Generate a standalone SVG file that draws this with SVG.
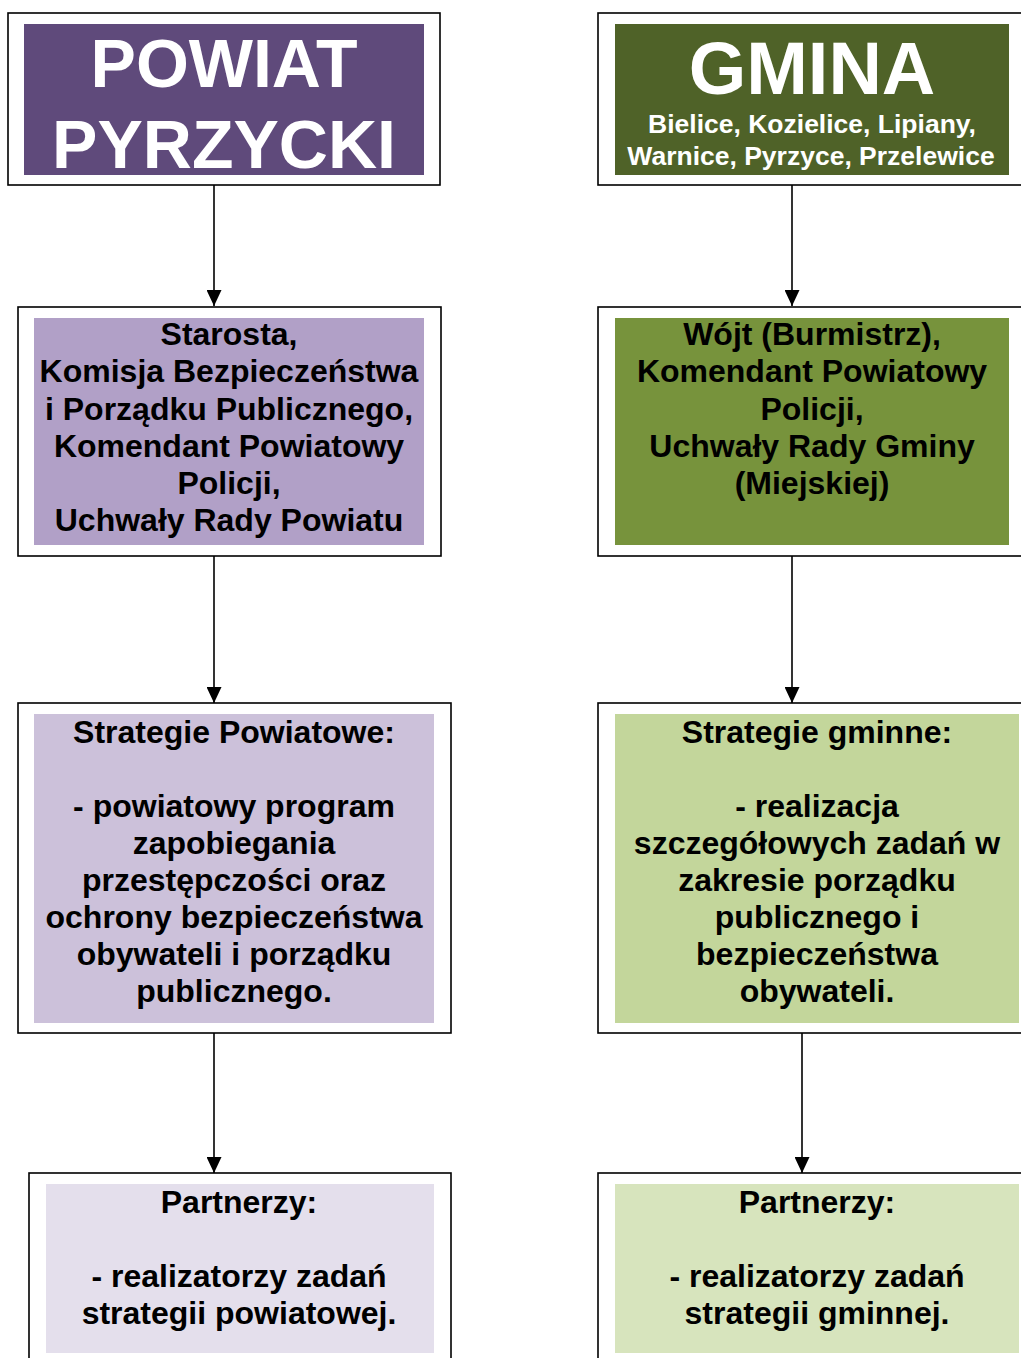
<svg xmlns="http://www.w3.org/2000/svg" width="1021" height="1358" viewBox="0 0 1021 1358">
<style>
.outer{fill:#fff;stroke:#000;stroke-width:1.6}
.t{font-family:"Liberation Sans",Arial,sans-serif;font-weight:bold;text-anchor:middle;fill:#000;font-size:32px}
.w{fill:#fff}
.big{font-size:68px}
.huge{font-size:74px}
.sub{font-size:26.5px}
.conn{stroke:#000;stroke-width:1.6;fill:none}
</style>
<defs>
<marker id="arr" viewBox="0 0 16 15" refX="16" refY="7.5" markerWidth="16" markerHeight="15" markerUnits="userSpaceOnUse" orient="auto">
<path d="M0,0 L16,7.5 L0,15 z" fill="#000"/>
</marker>
</defs>
<rect width="1021" height="1358" fill="#fff"/>
<g id="powiat">
<rect class="outer" x="8" y="13" width="432" height="172"/>
<rect x="24" y="24" width="400" height="151" fill="#5F4A7B"/>
<text class="t w big" x="224" y="87">POWIAT</text>
<text class="t w big" x="224" y="168">PYRZYCKI</text>
</g>
<g id="gmina">
<rect class="outer" x="598" y="13" width="440" height="172"/>
<rect x="615" y="24" width="394" height="151" fill="#4F6228"/>
<text class="t w huge" x="812" y="94">GMINA</text>
<text class="t w sub" x="812" y="133">Bielice, Kozielice, Lipiany,</text>
<text class="t w sub" x="811" y="165">Warnice, Pyrzyce, Przelewice</text>
</g>
<g id="starosta">
<rect class="outer" x="18" y="307" width="423" height="249"/>
<rect x="34" y="318" width="390" height="227" fill="#B1A0C7"/>
<text class="t" x="229" y="345">Starosta,</text>
<text class="t" x="229" y="382">Komisja Bezpieczeństwa</text>
<text class="t" x="229" y="420">i Porządku Publicznego,</text>
<text class="t" x="229" y="457">Komendant Powiatowy</text>
<text class="t" x="229" y="494">Policji,</text>
<text class="t" x="229" y="531">Uchwały Rady Powiatu</text>
</g>
<g id="wojt">
<rect class="outer" x="598" y="307" width="440" height="249"/>
<rect x="615" y="318" width="394" height="227" fill="#77933C"/>
<text class="t" x="812" y="345">Wójt (Burmistrz),</text>
<text class="t" x="812" y="382">Komendant Powiatowy</text>
<text class="t" x="812" y="420">Policji,</text>
<text class="t" x="812" y="457">Uchwały Rady Gminy</text>
<text class="t" x="812" y="494">(Miejskiej)</text>
</g>
<g id="strategie-powiatowe">
<rect class="outer" x="18" y="703" width="433" height="330"/>
<rect x="34" y="714" width="400" height="309" fill="#CCC1DA"/>
<text class="t" x="234" y="743">Strategie Powiatowe:</text>
<text class="t" x="234" y="817">- powiatowy program</text>
<text class="t" x="234" y="854">zapobiegania</text>
<text class="t" x="234" y="891">przestępczości oraz</text>
<text class="t" x="234" y="928">ochrony bezpieczeństwa</text>
<text class="t" x="234" y="965">obywateli i porządku</text>
<text class="t" x="234" y="1002">publicznego.</text>
</g>
<g id="strategie-gminne">
<rect class="outer" x="598" y="703" width="440" height="330"/>
<rect x="615" y="714" width="404" height="309" fill="#C3D69B"/>
<text class="t" x="817" y="743">Strategie gminne:</text>
<text class="t" x="817" y="817">- realizacja</text>
<text class="t" x="817" y="854">szczegółowych zadań w</text>
<text class="t" x="817" y="891">zakresie porządku</text>
<text class="t" x="817" y="928">publicznego i</text>
<text class="t" x="817" y="965">bezpieczeństwa</text>
<text class="t" x="817" y="1002">obywateli.</text>
</g>
<g id="partnerzy-powiat">
<rect class="outer" x="29" y="1173" width="422" height="200"/>
<rect x="46" y="1184" width="388" height="169" fill="#E4DFEC"/>
<text class="t" x="239" y="1213">Partnerzy:</text>
<text class="t" x="239" y="1287">- realizatorzy zadań</text>
<text class="t" x="239" y="1324">strategii powiatowej.</text>
</g>
<g id="partnerzy-gmina">
<rect class="outer" x="598" y="1173" width="440" height="200"/>
<rect x="615" y="1184" width="404" height="169" fill="#D7E4BD"/>
<text class="t" x="817" y="1213">Partnerzy:</text>
<text class="t" x="817" y="1287">- realizatorzy zadań</text>
<text class="t" x="817" y="1324">strategii gminnej.</text>
</g>
<g id="connectors">
<line class="conn" x1="214" y1="185" x2="214" y2="306" marker-end="url(#arr)"/>
<line class="conn" x1="792" y1="185" x2="792" y2="306" marker-end="url(#arr)"/>
<line class="conn" x1="214" y1="556" x2="214" y2="703" marker-end="url(#arr)"/>
<line class="conn" x1="792" y1="556" x2="792" y2="703" marker-end="url(#arr)"/>
<line class="conn" x1="214" y1="1033" x2="214" y2="1173" marker-end="url(#arr)"/>
<line class="conn" x1="802" y1="1033" x2="802" y2="1173" marker-end="url(#arr)"/>
</g>
</svg>
